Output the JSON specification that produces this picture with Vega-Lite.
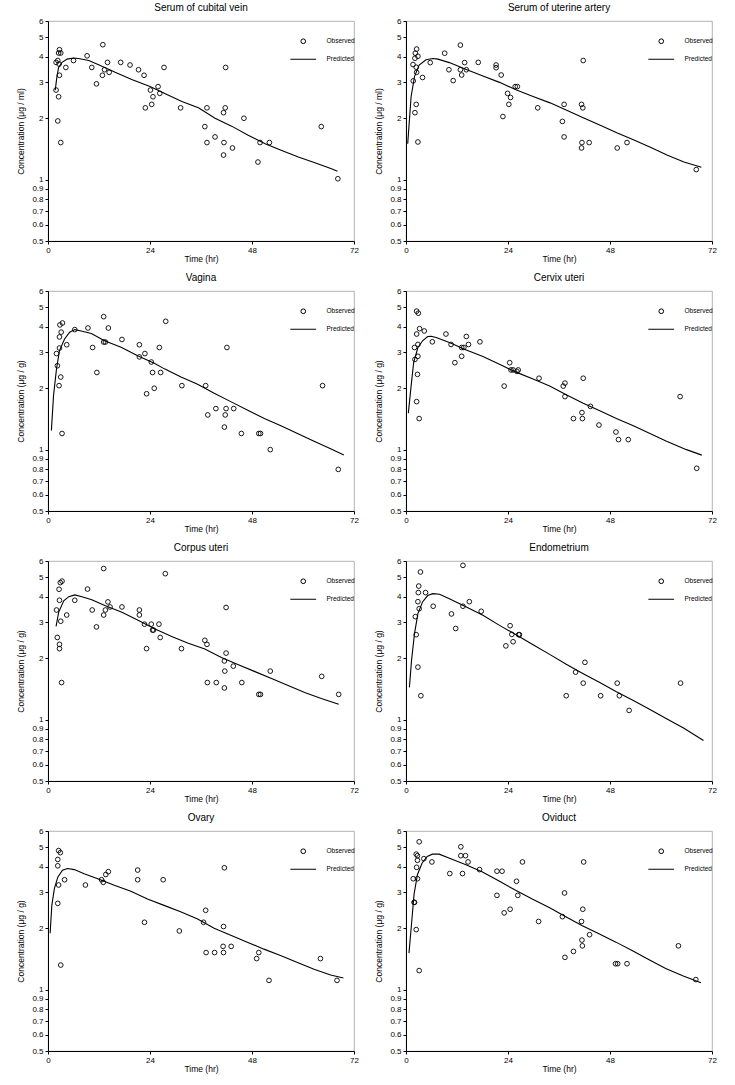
{
"$schema":"https://vega.github.io/schema/vega-lite/v6.json",
"background":"white",
"padding":{"left":16,"top":2,"right":5,"bottom":3},
"config":{
 "font":"Liberation Sans",
 "view":{"stroke":"#a0a0a0","strokeWidth":0.8},
 "title":{"fontSize":10,"fontWeight":"normal","offset":4,"color":"black"},
 "axis":{"grid":false,"domainColor":"black","tickColor":"black","labelColor":"black","titleColor":"black","labelFontSize":8,"titleFontSize":8.5,"titleFontWeight":"normal","tickSize":3,"domainWidth":1,"labelOverlap":false},
 "axisX":{"labelFlush":false,"labelPadding":2,"titlePadding":0},
 "axisY":{"labelPadding":2,"titlePadding":6},
 "legend":{"orient":"none","legendX":252,"legendY":17,"padding":0,"labelFontSize":6.5,"labelOffset":20,"rowPadding":10,"symbolSize":22,"symbolStrokeWidth":1,"symbolStrokeColor":"black","title":null,"labelColor":"black"}
},
"datasets":{
"obs":[
{"p":"cv","t":1.9,"c":3.76},{"p":"cv","t":2.3,"c":3.84},{"p":"cv","t":2.5,"c":4.18},{"p":"cv","t":2.7,"c":4.34},{"p":"cv","t":3.0,"c":4.18},{"p":"cv","t":2.6,"c":3.69},{"p":"cv","t":2.7,"c":3.25},{"p":"cv","t":1.9,"c":2.75},{"p":"cv","t":2.5,"c":2.55},{"p":"cv","t":2.3,"c":1.94},{"p":"cv","t":3.0,"c":1.52},{"p":"cv","t":4.2,"c":3.55},{"p":"cv","t":6.0,"c":3.84},{"p":"cv","t":9.2,"c":4.05},{"p":"cv","t":10.3,"c":3.55},{"p":"cv","t":11.4,"c":2.95},{"p":"cv","t":12.9,"c":4.59},{"p":"cv","t":12.8,"c":3.25},{"p":"cv","t":13.3,"c":3.46},{"p":"cv","t":14.0,"c":3.76},{"p":"cv","t":14.4,"c":3.36},{"p":"cv","t":17.1,"c":3.76},{"p":"cv","t":19.3,"c":3.65},{"p":"cv","t":21.3,"c":3.46},{"p":"cv","t":22.6,"c":3.25},{"p":"cv","t":22.9,"c":2.25},{"p":"cv","t":24.1,"c":2.75},{"p":"cv","t":24.4,"c":2.34},{"p":"cv","t":24.7,"c":2.55},{"p":"cv","t":25.9,"c":2.86},{"p":"cv","t":26.3,"c":2.65},{"p":"cv","t":27.3,"c":3.55},{"p":"cv","t":31.2,"c":2.25},{"p":"cv","t":36.9,"c":1.82},{"p":"cv","t":37.4,"c":2.25},{"p":"cv","t":37.4,"c":1.52},{"p":"cv","t":39.3,"c":1.62},{"p":"cv","t":41.3,"c":2.13},{"p":"cv","t":41.7,"c":2.25},{"p":"cv","t":41.8,"c":3.55},{"p":"cv","t":41.4,"c":1.52},{"p":"cv","t":41.3,"c":1.32},{"p":"cv","t":43.4,"c":1.43},{"p":"cv","t":46.1,"c":2.0},{"p":"cv","t":49.4,"c":1.22},{"p":"cv","t":49.9,"c":1.52},{"p":"cv","t":52.1,"c":1.52},{"p":"cv","t":64.3,"c":1.82},{"p":"cv","t":68.2,"c":1.01},
{"p":"ua","t":1.65,"c":3.67},{"p":"ua","t":1.7,"c":3.05},{"p":"ua","t":2.1,"c":3.94},{"p":"ua","t":2.2,"c":4.17},{"p":"ua","t":2.5,"c":4.37},{"p":"ua","t":2.8,"c":4.03},{"p":"ua","t":2.4,"c":3.56},{"p":"ua","t":2.5,"c":3.36},{"p":"ua","t":2.4,"c":2.34},{"p":"ua","t":2.1,"c":2.13},{"p":"ua","t":2.8,"c":1.53},{"p":"ua","t":3.9,"c":3.17},{"p":"ua","t":5.7,"c":3.75},{"p":"ua","t":9.1,"c":4.17},{"p":"ua","t":10.1,"c":3.46},{"p":"ua","t":11.1,"c":3.06},{"p":"ua","t":12.8,"c":4.57},{"p":"ua","t":12.8,"c":3.46},{"p":"ua","t":13.1,"c":3.26},{"p":"ua","t":13.8,"c":3.75},{"p":"ua","t":14.2,"c":3.46},{"p":"ua","t":17.0,"c":3.76},{"p":"ua","t":21.2,"c":3.65},{"p":"ua","t":21.2,"c":3.54},{"p":"ua","t":22.4,"c":3.26},{"p":"ua","t":22.8,"c":2.04},{"p":"ua","t":23.9,"c":2.65},{"p":"ua","t":24.2,"c":2.34},{"p":"ua","t":24.6,"c":2.53},{"p":"ua","t":25.7,"c":2.86},{"p":"ua","t":26.2,"c":2.86},{"p":"ua","t":31.0,"c":2.25},{"p":"ua","t":36.8,"c":1.93},{"p":"ua","t":37.2,"c":2.34},{"p":"ua","t":37.2,"c":1.62},{"p":"ua","t":41.3,"c":2.34},{"p":"ua","t":41.6,"c":2.25},{"p":"ua","t":41.7,"c":3.84},{"p":"ua","t":41.4,"c":1.52},{"p":"ua","t":41.3,"c":1.43},{"p":"ua","t":43.1,"c":1.52},{"p":"ua","t":49.7,"c":1.43},{"p":"ua","t":52.0,"c":1.52},{"p":"ua","t":68.3,"c":1.12},
{"p":"va","t":2.0,"c":2.96},{"p":"va","t":2.2,"c":2.58},{"p":"va","t":2.6,"c":2.06},{"p":"va","t":2.7,"c":3.57},{"p":"va","t":2.7,"c":3.15},{"p":"va","t":2.8,"c":4.09},{"p":"va","t":3.0,"c":2.27},{"p":"va","t":3.1,"c":3.77},{"p":"va","t":3.4,"c":4.18},{"p":"va","t":3.3,"c":1.2},{"p":"va","t":4.4,"c":3.27},{"p":"va","t":6.3,"c":3.88},{"p":"va","t":9.4,"c":3.95},{"p":"va","t":10.5,"c":3.17},{"p":"va","t":11.5,"c":2.39},{"p":"va","t":13.1,"c":4.49},{"p":"va","t":13.1,"c":3.37},{"p":"va","t":13.5,"c":3.37},{"p":"va","t":14.2,"c":3.95},{"p":"va","t":17.4,"c":3.47},{"p":"va","t":21.5,"c":3.27},{"p":"va","t":21.5,"c":2.85},{"p":"va","t":22.8,"c":2.96},{"p":"va","t":23.2,"c":1.88},{"p":"va","t":24.3,"c":2.69},{"p":"va","t":24.6,"c":2.39},{"p":"va","t":25.0,"c":2.0},{"p":"va","t":26.2,"c":3.17},{"p":"va","t":26.5,"c":2.39},{"p":"va","t":27.7,"c":4.26},{"p":"va","t":31.5,"c":2.06},{"p":"va","t":37.1,"c":2.06},{"p":"va","t":37.6,"c":1.48},{"p":"va","t":39.5,"c":1.59},{"p":"va","t":41.5,"c":1.29},{"p":"va","t":41.7,"c":1.48},{"p":"va","t":41.9,"c":1.59},{"p":"va","t":42.1,"c":3.17},{"p":"va","t":43.7,"c":1.59},{"p":"va","t":45.5,"c":1.2},{"p":"va","t":49.6,"c":1.2},{"p":"va","t":50.0,"c":1.2},{"p":"va","t":52.3,"c":1.0},{"p":"va","t":64.6,"c":2.06},{"p":"va","t":68.3,"c":0.8},
{"p":"cx","t":2.0,"c":3.17},{"p":"cx","t":2.1,"c":2.77},{"p":"cx","t":2.5,"c":3.69},{"p":"cx","t":2.5,"c":4.78},{"p":"cx","t":2.9,"c":4.67},{"p":"cx","t":2.8,"c":3.28},{"p":"cx","t":2.8,"c":2.87},{"p":"cx","t":2.7,"c":2.34},{"p":"cx","t":2.5,"c":1.72},{"p":"cx","t":3.1,"c":1.42},{"p":"cx","t":3.2,"c":3.92},{"p":"cx","t":4.3,"c":3.82},{"p":"cx","t":6.2,"c":3.38},{"p":"cx","t":9.4,"c":3.69},{"p":"cx","t":10.6,"c":3.28},{"p":"cx","t":11.5,"c":2.67},{"p":"cx","t":13.1,"c":2.87},{"p":"cx","t":13.1,"c":3.17},{"p":"cx","t":13.6,"c":3.17},{"p":"cx","t":14.2,"c":3.59},{"p":"cx","t":14.7,"c":3.28},{"p":"cx","t":17.4,"c":3.38},{"p":"cx","t":23.1,"c":2.05},{"p":"cx","t":24.4,"c":2.67},{"p":"cx","t":24.7,"c":2.46},{"p":"cx","t":25.2,"c":2.46},{"p":"cx","t":26.1,"c":2.42},{"p":"cx","t":26.4,"c":2.46},{"p":"cx","t":31.3,"c":2.24},{"p":"cx","t":37.0,"c":2.05},{"p":"cx","t":37.4,"c":2.12},{"p":"cx","t":37.4,"c":1.82},{"p":"cx","t":39.4,"c":1.42},{"p":"cx","t":41.4,"c":1.52},{"p":"cx","t":41.5,"c":1.42},{"p":"cx","t":41.7,"c":2.24},{"p":"cx","t":43.4,"c":1.63},{"p":"cx","t":45.4,"c":1.32},{"p":"cx","t":49.4,"c":1.22},{"p":"cx","t":50.0,"c":1.12},{"p":"cx","t":52.3,"c":1.12},{"p":"cx","t":64.5,"c":1.82},{"p":"cx","t":68.4,"c":0.81},
{"p":"cu","t":2.0,"c":3.45},{"p":"cu","t":2.2,"c":2.53},{"p":"cu","t":2.6,"c":4.36},{"p":"cu","t":2.7,"c":3.85},{"p":"cu","t":2.7,"c":2.34},{"p":"cu","t":2.7,"c":2.23},{"p":"cu","t":2.9,"c":4.7},{"p":"cu","t":3.0,"c":3.04},{"p":"cu","t":3.3,"c":4.78},{"p":"cu","t":3.2,"c":1.52},{"p":"cu","t":4.4,"c":3.26},{"p":"cu","t":6.3,"c":3.85},{"p":"cu","t":9.3,"c":4.37},{"p":"cu","t":10.4,"c":3.45},{"p":"cu","t":11.4,"c":2.85},{"p":"cu","t":13.1,"c":3.26},{"p":"cu","t":13.1,"c":5.51},{"p":"cu","t":13.5,"c":3.45},{"p":"cu","t":14.1,"c":3.78},{"p":"cu","t":14.6,"c":3.57},{"p":"cu","t":17.4,"c":3.57},{"p":"cu","t":21.5,"c":3.45},{"p":"cu","t":21.5,"c":3.26},{"p":"cu","t":22.7,"c":2.94},{"p":"cu","t":23.2,"c":2.23},{"p":"cu","t":24.3,"c":2.94},{"p":"cu","t":24.6,"c":2.75},{"p":"cu","t":24.8,"c":2.75},{"p":"cu","t":26.1,"c":2.94},{"p":"cu","t":26.4,"c":2.53},{"p":"cu","t":27.6,"c":5.2},{"p":"cu","t":31.4,"c":2.23},{"p":"cu","t":36.9,"c":2.45},{"p":"cu","t":37.4,"c":2.34},{"p":"cu","t":37.5,"c":1.52},{"p":"cu","t":39.6,"c":1.52},{"p":"cu","t":41.5,"c":1.94},{"p":"cu","t":41.6,"c":1.73},{"p":"cu","t":41.5,"c":1.43},{"p":"cu","t":41.9,"c":2.12},{"p":"cu","t":41.9,"c":3.55},{"p":"cu","t":43.6,"c":1.83},{"p":"cu","t":45.6,"c":1.52},{"p":"cu","t":49.6,"c":1.33},{"p":"cu","t":50.0,"c":1.33},{"p":"cu","t":52.3,"c":1.73},{"p":"cu","t":64.4,"c":1.63},{"p":"cu","t":68.4,"c":1.33},
{"p":"en","t":2.2,"c":3.2},{"p":"en","t":2.4,"c":2.61},{"p":"en","t":2.8,"c":1.81},{"p":"en","t":2.8,"c":3.79},{"p":"en","t":2.9,"c":4.2},{"p":"en","t":3.0,"c":4.52},{"p":"en","t":3.1,"c":3.5},{"p":"en","t":3.4,"c":5.3},{"p":"en","t":3.5,"c":1.31},{"p":"en","t":4.6,"c":4.2},{"p":"en","t":6.4,"c":3.6},{"p":"en","t":10.7,"c":3.3},{"p":"en","t":11.7,"c":2.8},{"p":"en","t":13.4,"c":5.71},{"p":"en","t":13.4,"c":3.6},{"p":"en","t":14.9,"c":3.79},{"p":"en","t":17.7,"c":3.4},{"p":"en","t":23.5,"c":2.3},{"p":"en","t":24.5,"c":2.89},{"p":"en","t":24.9,"c":2.62},{"p":"en","t":25.2,"c":2.41},{"p":"en","t":26.5,"c":2.61},{"p":"en","t":26.7,"c":2.61},{"p":"en","t":37.7,"c":1.31},{"p":"en","t":39.9,"c":1.71},{"p":"en","t":41.7,"c":1.51},{"p":"en","t":42.1,"c":1.91},{"p":"en","t":45.8,"c":1.31},{"p":"en","t":49.7,"c":1.51},{"p":"en","t":50.2,"c":1.31},{"p":"en","t":52.5,"c":1.11},{"p":"en","t":64.6,"c":1.51},
{"p":"ov","t":2.3,"c":4.35},{"p":"ov","t":2.3,"c":4.05},{"p":"ov","t":2.5,"c":4.81},{"p":"ov","t":2.9,"c":4.7},{"p":"ov","t":2.5,"c":3.26},{"p":"ov","t":2.3,"c":2.65},{"p":"ov","t":3.0,"c":1.32},{"p":"ov","t":3.9,"c":3.46},{"p":"ov","t":8.8,"c":3.26},{"p":"ov","t":12.6,"c":3.46},{"p":"ov","t":13.0,"c":3.36},{"p":"ov","t":13.6,"c":3.67},{"p":"ov","t":14.2,"c":3.79},{"p":"ov","t":21.1,"c":3.86},{"p":"ov","t":21.1,"c":3.46},{"p":"ov","t":22.7,"c":2.14},{"p":"ov","t":27.1,"c":3.46},{"p":"ov","t":30.9,"c":1.94},{"p":"ov","t":36.6,"c":2.14},{"p":"ov","t":37.1,"c":2.45},{"p":"ov","t":37.2,"c":1.52},{"p":"ov","t":39.2,"c":1.52},{"p":"ov","t":41.2,"c":1.63},{"p":"ov","t":41.3,"c":1.52},{"p":"ov","t":41.3,"c":2.04},{"p":"ov","t":41.5,"c":3.96},{"p":"ov","t":43.1,"c":1.63},{"p":"ov","t":49.1,"c":1.42},{"p":"ov","t":49.6,"c":1.52},{"p":"ov","t":52.0,"c":1.11},{"p":"ov","t":64.1,"c":1.42},{"p":"ov","t":68.0,"c":1.11},
{"p":"od","t":1.7,"c":3.5},{"p":"od","t":1.9,"c":2.68},{"p":"od","t":2.0,"c":2.68},{"p":"od","t":2.4,"c":1.97},{"p":"od","t":2.4,"c":4.62},{"p":"od","t":2.5,"c":3.98},{"p":"od","t":2.7,"c":4.54},{"p":"od","t":2.7,"c":3.5},{"p":"od","t":2.7,"c":4.31},{"p":"od","t":3.1,"c":5.31},{"p":"od","t":3.1,"c":1.24},{"p":"od","t":4.2,"c":4.39},{"p":"od","t":6.1,"c":4.23},{"p":"od","t":10.3,"c":3.71},{"p":"od","t":12.9,"c":5.02},{"p":"od","t":12.9,"c":4.54},{"p":"od","t":13.3,"c":3.71},{"p":"od","t":14.0,"c":4.54},{"p":"od","t":14.6,"c":4.23},{"p":"od","t":17.3,"c":3.88},{"p":"od","t":21.4,"c":3.81},{"p":"od","t":22.6,"c":3.81},{"p":"od","t":21.4,"c":2.9},{"p":"od","t":23.1,"c":2.38},{"p":"od","t":24.5,"c":2.48},{"p":"od","t":26.0,"c":3.4},{"p":"od","t":26.3,"c":2.9},{"p":"od","t":27.4,"c":4.23},{"p":"od","t":31.2,"c":2.16},{"p":"od","t":36.8,"c":2.28},{"p":"od","t":37.3,"c":2.98},{"p":"od","t":37.4,"c":1.44},{"p":"od","t":39.4,"c":1.54},{"p":"od","t":41.3,"c":2.16},{"p":"od","t":41.4,"c":1.75},{"p":"od","t":41.5,"c":1.64},{"p":"od","t":41.6,"c":2.48},{"p":"od","t":41.8,"c":4.23},{"p":"od","t":43.2,"c":1.86},{"p":"od","t":49.3,"c":1.34},{"p":"od","t":49.8,"c":1.34},{"p":"od","t":52.0,"c":1.34},{"p":"od","t":64.1,"c":1.64},{"p":"od","t":68.2,"c":1.12}
],
"pred":[
{"p":"cv","t":1.7,"c":2.75},{"p":"cv","t":2.1,"c":3.2},{"p":"cv","t":2.5,"c":3.55},{"p":"cv","t":3.3,"c":3.76},{"p":"cv","t":4.5,"c":3.9},{"p":"cv","t":6.0,"c":3.95},{"p":"cv","t":7.2,"c":3.93},{"p":"cv","t":9.6,"c":3.84},{"p":"cv","t":11.9,"c":3.66},{"p":"cv","t":15.8,"c":3.36},{"p":"cv","t":19.7,"c":3.1},{"p":"cv","t":24,"c":2.86},{"p":"cv","t":27.6,"c":2.64},{"p":"cv","t":31.5,"c":2.42},{"p":"cv","t":35.4,"c":2.25},{"p":"cv","t":39.3,"c":2.0},{"p":"cv","t":43.2,"c":1.83},{"p":"cv","t":47.1,"c":1.65},{"p":"cv","t":51.1,"c":1.5},{"p":"cv","t":55,"c":1.39},{"p":"cv","t":58.9,"c":1.29},{"p":"cv","t":62.8,"c":1.21},{"p":"cv","t":66.7,"c":1.13},{"p":"cv","t":68.1,"c":1.1},
{"p":"ua","t":0.4,"c":1.5},{"p":"ua","t":1.2,"c":2.55},{"p":"ua","t":2.0,"c":3.2},{"p":"ua","t":3.1,"c":3.65},{"p":"ua","t":4.7,"c":3.87},{"p":"ua","t":6.3,"c":3.93},{"p":"ua","t":7.5,"c":3.9},{"p":"ua","t":10.2,"c":3.75},{"p":"ua","t":14.2,"c":3.47},{"p":"ua","t":18.1,"c":3.22},{"p":"ua","t":22,"c":3.0},{"p":"ua","t":26,"c":2.75},{"p":"ua","t":29.9,"c":2.56},{"p":"ua","t":33.9,"c":2.38},{"p":"ua","t":37.8,"c":2.19},{"p":"ua","t":41.7,"c":2.01},{"p":"ua","t":45.7,"c":1.85},{"p":"ua","t":49.6,"c":1.7},{"p":"ua","t":53.5,"c":1.57},{"p":"ua","t":57.5,"c":1.44},{"p":"ua","t":61.4,"c":1.32},{"p":"ua","t":65.4,"c":1.22},{"p":"ua","t":69.5,"c":1.15},
{"p":"va","t":0.8,"c":1.24},{"p":"va","t":1.3,"c":1.84},{"p":"va","t":2.0,"c":2.49},{"p":"va","t":2.7,"c":3.06},{"p":"va","t":3.9,"c":3.49},{"p":"va","t":5.1,"c":3.77},{"p":"va","t":6.3,"c":3.88},{"p":"va","t":7.8,"c":3.82},{"p":"va","t":10.2,"c":3.71},{"p":"va","t":13.3,"c":3.42},{"p":"va","t":17.2,"c":3.18},{"p":"va","t":21.1,"c":2.89},{"p":"va","t":25.0,"c":2.65},{"p":"va","t":27.4,"c":2.49},{"p":"va","t":31.3,"c":2.27},{"p":"va","t":35.2,"c":2.09},{"p":"va","t":39.1,"c":1.89},{"p":"va","t":43.0,"c":1.72},{"p":"va","t":47.0,"c":1.56},{"p":"va","t":50.9,"c":1.42},{"p":"va","t":54.8,"c":1.31},{"p":"va","t":58.7,"c":1.2},{"p":"va","t":62.6,"c":1.1},{"p":"va","t":66.5,"c":1.01},{"p":"va","t":69.6,"c":0.94},
{"p":"cx","t":0.55,"c":1.51},{"p":"cx","t":1.2,"c":2.05},{"p":"cx","t":1.8,"c":2.67},{"p":"cx","t":2.8,"c":3.17},{"p":"cx","t":3.9,"c":3.42},{"p":"cx","t":5.1,"c":3.59},{"p":"cx","t":5.9,"c":3.6},{"p":"cx","t":7.1,"c":3.55},{"p":"cx","t":10.2,"c":3.35},{"p":"cx","t":14.2,"c":3.08},{"p":"cx","t":18.1,"c":2.86},{"p":"cx","t":22.0,"c":2.62},{"p":"cx","t":25.9,"c":2.4},{"p":"cx","t":29.9,"c":2.22},{"p":"cx","t":33.8,"c":2.05},{"p":"cx","t":37.7,"c":1.86},{"p":"cx","t":41.7,"c":1.69},{"p":"cx","t":45.6,"c":1.55},{"p":"cx","t":49.5,"c":1.42},{"p":"cx","t":53.5,"c":1.31},{"p":"cx","t":57.4,"c":1.2},{"p":"cx","t":61.3,"c":1.1},{"p":"cx","t":66.0,"c":1.0},{"p":"cx","t":69.6,"c":0.94},
{"p":"cu","t":1.9,"c":2.87},{"p":"cu","t":2.5,"c":3.36},{"p":"cu","t":3.7,"c":3.83},{"p":"cu","t":4.9,"c":4.01},{"p":"cu","t":6.3,"c":4.09},{"p":"cu","t":8.0,"c":4.01},{"p":"cu","t":10.3,"c":3.87},{"p":"cu","t":13.5,"c":3.62},{"p":"cu","t":17.4,"c":3.36},{"p":"cu","t":21.3,"c":3.06},{"p":"cu","t":25.2,"c":2.78},{"p":"cu","t":29.1,"c":2.56},{"p":"cu","t":33.0,"c":2.37},{"p":"cu","t":36.9,"c":2.22},{"p":"cu","t":40.8,"c":2.02},{"p":"cu","t":44.8,"c":1.86},{"p":"cu","t":48.7,"c":1.72},{"p":"cu","t":52.6,"c":1.59},{"p":"cu","t":56.5,"c":1.47},{"p":"cu","t":60.4,"c":1.36},{"p":"cu","t":64.3,"c":1.27},{"p":"cu","t":68.4,"c":1.19},
{"p":"en","t":0.8,"c":1.44},{"p":"en","t":1.3,"c":1.95},{"p":"en","t":2.0,"c":2.64},{"p":"en","t":2.8,"c":3.31},{"p":"en","t":3.9,"c":3.78},{"p":"en","t":5.1,"c":4.06},{"p":"en","t":6.3,"c":4.15},{"p":"en","t":7.9,"c":4.12},{"p":"en","t":10.2,"c":3.92},{"p":"en","t":14.2,"c":3.57},{"p":"en","t":18.1,"c":3.25},{"p":"en","t":22.0,"c":2.9},{"p":"en","t":25.9,"c":2.61},{"p":"en","t":29.9,"c":2.33},{"p":"en","t":33.8,"c":2.09},{"p":"en","t":37.7,"c":1.87},{"p":"en","t":41.7,"c":1.68},{"p":"en","t":45.6,"c":1.52},{"p":"en","t":49.5,"c":1.37},{"p":"en","t":53.5,"c":1.24},{"p":"en","t":57.4,"c":1.12},{"p":"en","t":61.3,"c":1.01},{"p":"en","t":65.3,"c":0.91},{"p":"en","t":70.0,"c":0.79},
{"p":"ov","t":0.5,"c":1.89},{"p":"ov","t":0.9,"c":2.59},{"p":"ov","t":1.5,"c":3.13},{"p":"ov","t":2.3,"c":3.56},{"p":"ov","t":3.4,"c":3.85},{"p":"ov","t":4.6,"c":3.93},{"p":"ov","t":6.2,"c":3.88},{"p":"ov","t":8.5,"c":3.7},{"p":"ov","t":11.7,"c":3.5},{"p":"ov","t":15.6,"c":3.25},{"p":"ov","t":19.5,"c":3.04},{"p":"ov","t":23.4,"c":2.78},{"p":"ov","t":27.3,"c":2.59},{"p":"ov","t":31.2,"c":2.41},{"p":"ov","t":35.2,"c":2.22},{"p":"ov","t":39.1,"c":2.0},{"p":"ov","t":43.0,"c":1.85},{"p":"ov","t":46.9,"c":1.71},{"p":"ov","t":50.8,"c":1.58},{"p":"ov","t":54.7,"c":1.47},{"p":"ov","t":58.7,"c":1.36},{"p":"ov","t":62.6,"c":1.26},{"p":"ov","t":66.5,"c":1.18},{"p":"ov","t":69.5,"c":1.14},
{"p":"od","t":0.7,"c":1.51},{"p":"od","t":1.3,"c":2.1},{"p":"od","t":1.9,"c":2.94},{"p":"od","t":2.7,"c":3.67},{"p":"od","t":3.8,"c":4.18},{"p":"od","t":5.0,"c":4.5},{"p":"od","t":6.2,"c":4.62},{"p":"od","t":7.8,"c":4.62},{"p":"od","t":10.1,"c":4.42},{"p":"od","t":14.1,"c":4.1},{"p":"od","t":18.0,"c":3.78},{"p":"od","t":21.9,"c":3.41},{"p":"od","t":25.8,"c":3.07},{"p":"od","t":29.7,"c":2.78},{"p":"od","t":33.7,"c":2.53},{"p":"od","t":37.6,"c":2.28},{"p":"od","t":41.5,"c":2.06},{"p":"od","t":45.4,"c":1.88},{"p":"od","t":49.4,"c":1.71},{"p":"od","t":53.3,"c":1.55},{"p":"od","t":57.2,"c":1.4},{"p":"od","t":61.1,"c":1.27},{"p":"od","t":65.1,"c":1.17},{"p":"od","t":69.4,"c":1.08}
]},
"columns":2,
"spacing":{"row":9,"column":15},
"resolve":{"scale":{"shape":"independent"}},
"concat":[
{"title":"Serum of cubital vein","width":306,"height":220,
 "encoding":{"x":{"field":"t","type":"quantitative","scale":{"domain":[0,72],"nice":false},"axis":{"title":"Time (hr)","values":[0,24,48,72]}},"y":{"field":"c","type":"quantitative","scale":{"type":"log","domain":[0.5,6],"nice":false},"axis":{"title":"Concentration (μg / ml)","values":[0.5,0.6,0.7,0.8,0.9,1,2,3,4,5,6],"format":"~g"}}},
 "layer":[
 {"data":{"name":"pred"},"transform":[{"filter":"datum.p==='cv'"}],"mark":{"type":"line","color":"black","strokeWidth":1.1}},
 {"data":{"name":"obs"},"transform":[{"filter":"datum.p==='cv'"}],"mark":{"type":"point","filled":false,"color":"black","size":22,"strokeWidth":0.9,"opacity":1},"encoding":{"shape":{"datum":"Observed","scale":{"domain":["Observed","Predicted"],"range":["circle","M-5.5,0H5.5"]},"legend":{"title":null}}}}
]},
{"title":"Serum of uterine artery","width":306,"height":220,
 "encoding":{"x":{"field":"t","type":"quantitative","scale":{"domain":[0,72],"nice":false},"axis":{"title":"Time (hr)","values":[0,24,48,72]}},"y":{"field":"c","type":"quantitative","scale":{"type":"log","domain":[0.5,6],"nice":false},"axis":{"title":"Concentration (μg / ml)","values":[0.5,0.6,0.7,0.8,0.9,1,2,3,4,5,6],"format":"~g"}}},
 "layer":[
 {"data":{"name":"pred"},"transform":[{"filter":"datum.p==='ua'"}],"mark":{"type":"line","color":"black","strokeWidth":1.1}},
 {"data":{"name":"obs"},"transform":[{"filter":"datum.p==='ua'"}],"mark":{"type":"point","filled":false,"color":"black","size":22,"strokeWidth":0.9,"opacity":1},"encoding":{"shape":{"datum":"Observed","scale":{"domain":["Observed","Predicted"],"range":["circle","M-5.5,0H5.5"]},"legend":{"title":null}}}}
]},
{"title":"Vagina","width":306,"height":220,
 "encoding":{"x":{"field":"t","type":"quantitative","scale":{"domain":[0,72],"nice":false},"axis":{"title":"Time (hr)","values":[0,24,48,72]}},"y":{"field":"c","type":"quantitative","scale":{"type":"log","domain":[0.5,6],"nice":false},"axis":{"title":"Concentration (μg / g)","values":[0.5,0.6,0.7,0.8,0.9,1,2,3,4,5,6],"format":"~g"}}},
 "layer":[
 {"data":{"name":"pred"},"transform":[{"filter":"datum.p==='va'"}],"mark":{"type":"line","color":"black","strokeWidth":1.1}},
 {"data":{"name":"obs"},"transform":[{"filter":"datum.p==='va'"}],"mark":{"type":"point","filled":false,"color":"black","size":22,"strokeWidth":0.9,"opacity":1},"encoding":{"shape":{"datum":"Observed","scale":{"domain":["Observed","Predicted"],"range":["circle","M-5.5,0H5.5"]},"legend":{"title":null}}}}
]},
{"title":"Cervix uteri","width":306,"height":220,
 "encoding":{"x":{"field":"t","type":"quantitative","scale":{"domain":[0,72],"nice":false},"axis":{"title":"Time (hr)","values":[0,24,48,72]}},"y":{"field":"c","type":"quantitative","scale":{"type":"log","domain":[0.5,6],"nice":false},"axis":{"title":"Concentration (μg / g)","values":[0.5,0.6,0.7,0.8,0.9,1,2,3,4,5,6],"format":"~g"}}},
 "layer":[
 {"data":{"name":"pred"},"transform":[{"filter":"datum.p==='cx'"}],"mark":{"type":"line","color":"black","strokeWidth":1.1}},
 {"data":{"name":"obs"},"transform":[{"filter":"datum.p==='cx'"}],"mark":{"type":"point","filled":false,"color":"black","size":22,"strokeWidth":0.9,"opacity":1},"encoding":{"shape":{"datum":"Observed","scale":{"domain":["Observed","Predicted"],"range":["circle","M-5.5,0H5.5"]},"legend":{"title":null}}}}
]},
{"title":"Corpus uteri","width":306,"height":220,
 "encoding":{"x":{"field":"t","type":"quantitative","scale":{"domain":[0,72],"nice":false},"axis":{"title":"Time (hr)","values":[0,24,48,72]}},"y":{"field":"c","type":"quantitative","scale":{"type":"log","domain":[0.5,6],"nice":false},"axis":{"title":"Concentration (μg / g)","values":[0.5,0.6,0.7,0.8,0.9,1,2,3,4,5,6],"format":"~g"}}},
 "layer":[
 {"data":{"name":"pred"},"transform":[{"filter":"datum.p==='cu'"}],"mark":{"type":"line","color":"black","strokeWidth":1.1}},
 {"data":{"name":"obs"},"transform":[{"filter":"datum.p==='cu'"}],"mark":{"type":"point","filled":false,"color":"black","size":22,"strokeWidth":0.9,"opacity":1},"encoding":{"shape":{"datum":"Observed","scale":{"domain":["Observed","Predicted"],"range":["circle","M-5.5,0H5.5"]},"legend":{"title":null}}}}
]},
{"title":"Endometrium","width":306,"height":220,
 "encoding":{"x":{"field":"t","type":"quantitative","scale":{"domain":[0,72],"nice":false},"axis":{"title":"Time (hr)","values":[0,24,48,72]}},"y":{"field":"c","type":"quantitative","scale":{"type":"log","domain":[0.5,6],"nice":false},"axis":{"title":"Concentration (μg / g)","values":[0.5,0.6,0.7,0.8,0.9,1,2,3,4,5,6],"format":"~g"}}},
 "layer":[
 {"data":{"name":"pred"},"transform":[{"filter":"datum.p==='en'"}],"mark":{"type":"line","color":"black","strokeWidth":1.1}},
 {"data":{"name":"obs"},"transform":[{"filter":"datum.p==='en'"}],"mark":{"type":"point","filled":false,"color":"black","size":22,"strokeWidth":0.9,"opacity":1},"encoding":{"shape":{"datum":"Observed","scale":{"domain":["Observed","Predicted"],"range":["circle","M-5.5,0H5.5"]},"legend":{"title":null}}}}
]},
{"title":"Ovary","width":306,"height":220,
 "encoding":{"x":{"field":"t","type":"quantitative","scale":{"domain":[0,72],"nice":false},"axis":{"title":"Time (hr)","values":[0,24,48,72]}},"y":{"field":"c","type":"quantitative","scale":{"type":"log","domain":[0.5,6],"nice":false},"axis":{"title":"Concentration (μg / g)","values":[0.5,0.6,0.7,0.8,0.9,1,2,3,4,5,6],"format":"~g"}}},
 "layer":[
 {"data":{"name":"pred"},"transform":[{"filter":"datum.p==='ov'"}],"mark":{"type":"line","color":"black","strokeWidth":1.1}},
 {"data":{"name":"obs"},"transform":[{"filter":"datum.p==='ov'"}],"mark":{"type":"point","filled":false,"color":"black","size":22,"strokeWidth":0.9,"opacity":1},"encoding":{"shape":{"datum":"Observed","scale":{"domain":["Observed","Predicted"],"range":["circle","M-5.5,0H5.5"]},"legend":{"title":null}}}}
]},
{"title":"Oviduct","width":306,"height":220,
 "encoding":{"x":{"field":"t","type":"quantitative","scale":{"domain":[0,72],"nice":false},"axis":{"title":"Time (hr)","values":[0,24,48,72]}},"y":{"field":"c","type":"quantitative","scale":{"type":"log","domain":[0.5,6],"nice":false},"axis":{"title":"Concentration (μg / g)","values":[0.5,0.6,0.7,0.8,0.9,1,2,3,4,5,6],"format":"~g"}}},
 "layer":[
 {"data":{"name":"pred"},"transform":[{"filter":"datum.p==='od'"}],"mark":{"type":"line","color":"black","strokeWidth":1.1}},
 {"data":{"name":"obs"},"transform":[{"filter":"datum.p==='od'"}],"mark":{"type":"point","filled":false,"color":"black","size":22,"strokeWidth":0.9,"opacity":1},"encoding":{"shape":{"datum":"Observed","scale":{"domain":["Observed","Predicted"],"range":["circle","M-5.5,0H5.5"]},"legend":{"title":null}}}}
]}
]
}
